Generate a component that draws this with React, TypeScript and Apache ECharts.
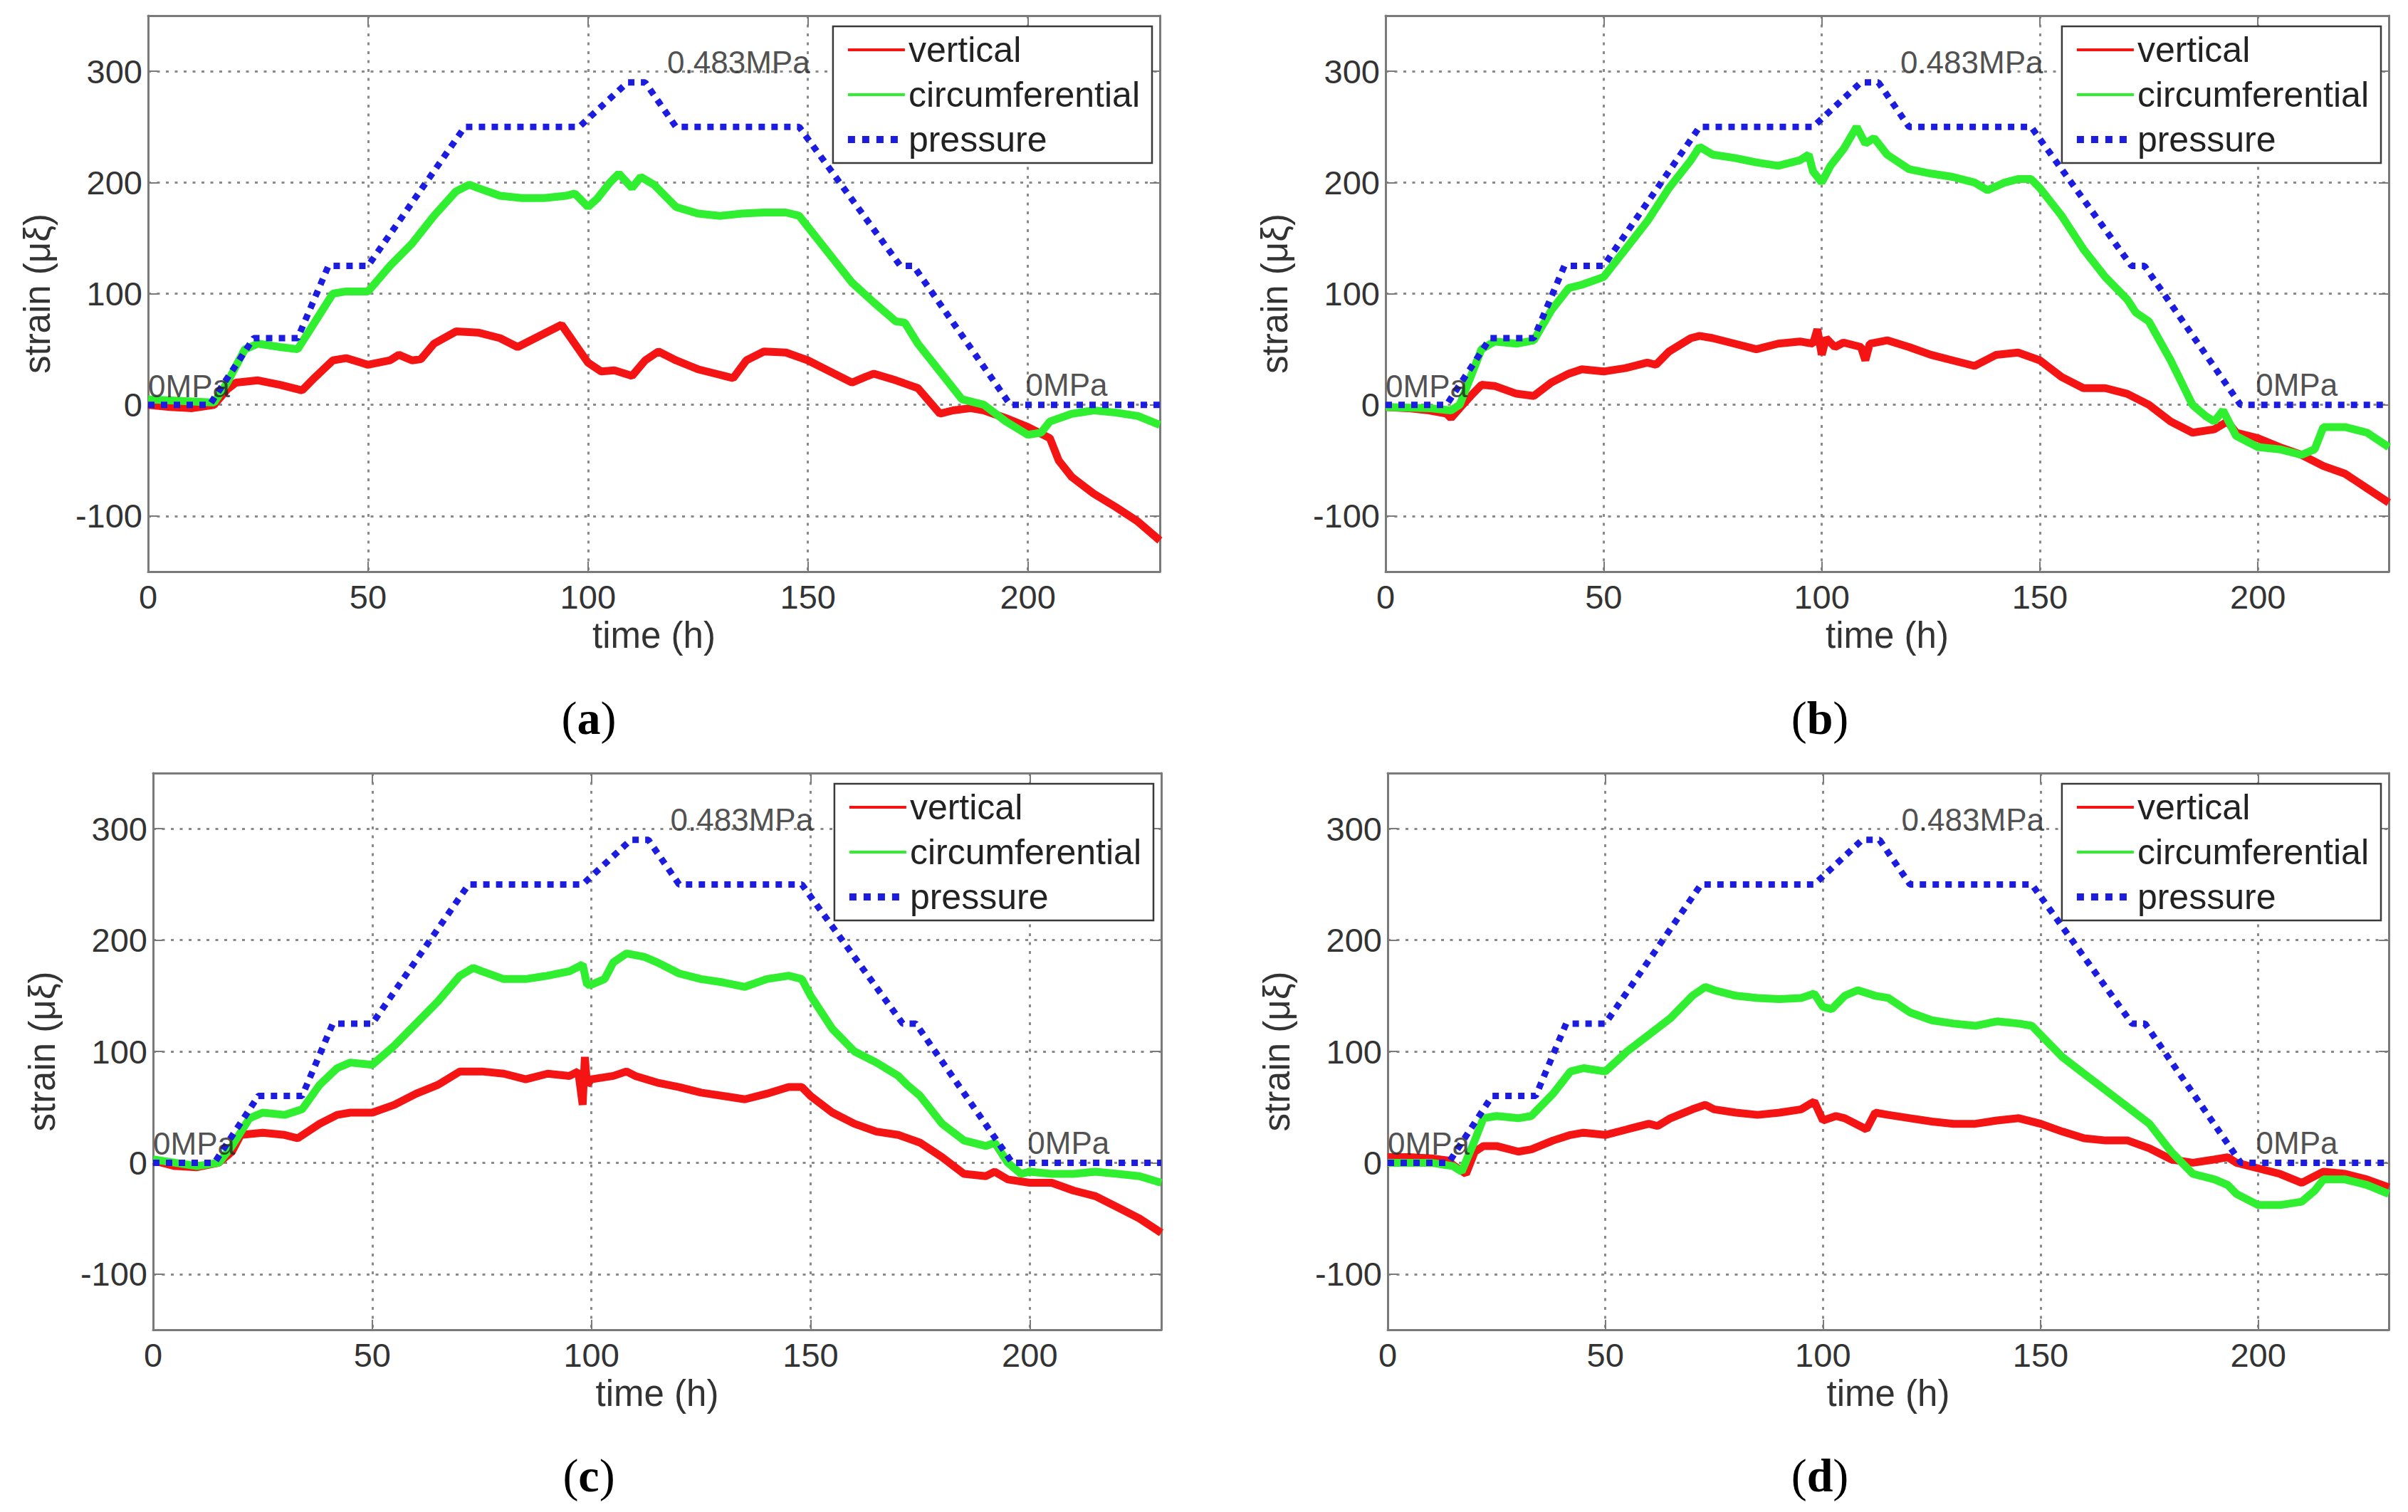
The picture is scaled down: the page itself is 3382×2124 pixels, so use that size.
import React, { useEffect, useRef } from 'react';
import * as echarts from 'echarts';

// ---------- data (time h, value) ----------
const pressure: number[][] = [
  [0, 0], [14, 0], [24, 60], [34, 60], [41, 125], [50, 125], [72, 250], [98, 250], [109, 290], [113, 290],
  [120, 250], [148, 250], [171, 125], [174, 125], [196, 0], [230, 0],
];

const verticalA: number[][] = [
  [0, 0], [5, -2], [10, -3], [15, 0], [18, 14], [20, 20], [25, 22], [30, 18], [35, 13], [38, 25], [42, 40], [45, 42],
  [50, 36], [55, 40], [57, 45], [60, 40], [62, 41], [65, 55], [70, 66], [75, 65], [80, 60], [84, 52], [88, 60], [92, 68],
  [94, 72], [97, 55], [100, 38], [103, 30], [106, 31], [110, 26], [113, 40], [116, 48], [120, 40], [125, 32], [130, 27],
  [133, 24], [136, 40], [140, 48], [145, 47], [150, 40], [155, 30], [160, 20], [163, 25], [165, 28], [170, 22], [175, 15],
  [180, -8], [183, -5], [187, -3], [190, -5], [195, -12], [200, -20], [205, -30], [207, -50], [210, -65], [215, -80],
  [220, -92], [225, -105], [230, -122],
];
const circA: number[][] = [
  [0, 5], [10, 3], [15, 2], [18, 20], [22, 50], [25, 55], [30, 52], [34, 50], [38, 75], [42, 100], [45, 102], [50, 102],
  [55, 125], [60, 145], [65, 170], [70, 192], [73, 198], [75, 195], [80, 188], [85, 186], [90, 186], [95, 188], [97, 190],
  [100, 178], [102, 185], [105, 200], [107, 208], [110, 195], [112, 205], [115, 198], [120, 178], [125, 172], [130, 170],
  [135, 172], [140, 173], [145, 173], [148, 170], [150, 160], [155, 135], [160, 110], [165, 92], [170, 75], [172, 74],
  [175, 55], [180, 30], [185, 5], [190, 0], [195, -15], [200, -27], [203, -25], [205, -15], [210, -8], [215, -5], [220, -7],
  [225, -10], [230, -18],
];

const verticalB: number[][] = [
  [0, -2], [5, -3], [10, -5], [14, -8], [15, -12], [17, -3], [20, 10], [22, 18], [25, 17], [30, 10], [34, 8], [38, 20],
  [42, 28], [45, 32], [50, 30], [55, 33], [60, 38], [62, 36], [65, 48], [70, 60], [72, 62], [75, 60], [80, 55], [85, 50],
  [90, 55], [95, 57], [98, 55], [99, 68], [100, 45], [101, 60], [103, 52], [105, 56], [109, 52], [110, 40], [111, 55],
  [115, 58], [120, 52], [125, 45], [130, 40], [135, 35], [140, 45], [145, 47], [150, 40], [155, 25], [160, 15], [165, 15],
  [170, 10], [175, 0], [180, -15], [185, -25], [190, -22], [193, -15], [195, -25], [200, -30], [205, -38], [210, -45],
  [215, -55], [220, -62], [225, -75], [230, -88],
];
const circB: number[][] = [
  [0, -2], [10, -3], [15, -5], [17, 0], [20, 30], [22, 50], [25, 57], [30, 55], [34, 58], [38, 85], [42, 105], [45, 108],
  [50, 115], [55, 140], [60, 165], [65, 195], [70, 220], [72, 232], [75, 225], [80, 222], [85, 218], [90, 215], [95, 220],
  [97, 225], [98, 210], [100, 200], [102, 215], [105, 230], [108, 250], [110, 235], [112, 240], [115, 225], [120, 212],
  [125, 208], [130, 205], [135, 200], [138, 193], [142, 200], [145, 203], [148, 203], [150, 195], [155, 170], [160, 140],
  [165, 115], [170, 95], [172, 83], [175, 75], [180, 40], [185, 0], [188, -10], [190, -15], [192, -5], [195, -28], [200, -38],
  [205, -40], [210, -45], [213, -40], [215, -20], [220, -20], [225, -25], [230, -38],
];

const verticalC: number[][] = [
  [0, 2], [5, -3], [10, -4], [15, 0], [18, 10], [20, 25], [25, 27], [30, 25], [33, 22], [38, 35], [42, 43], [45, 45],
  [50, 45], [55, 52], [60, 62], [65, 70], [70, 82], [75, 82], [80, 80], [85, 75], [90, 80], [95, 78], [97, 82], [98, 52],
  [98.5, 95], [99, 70], [100, 75], [105, 78], [108, 82], [110, 78], [115, 72], [120, 68], [125, 63], [130, 60], [135, 57],
  [140, 62], [145, 68], [148, 68], [150, 60], [155, 45], [160, 35], [165, 28], [170, 25], [175, 18], [180, 5], [185, -10],
  [190, -12], [192, -8], [195, -15], [200, -18], [205, -18], [210, -25], [215, -30], [220, -40], [225, -50], [230, -63],
];
const circC: number[][] = [
  [0, 3], [5, 0], [10, -3], [15, 0], [18, 15], [22, 40], [25, 45], [30, 43], [34, 48], [38, 70], [42, 85], [45, 90],
  [50, 88], [55, 105], [60, 125], [65, 145], [70, 168], [73, 175], [75, 172], [80, 165], [85, 165], [90, 168], [95, 172],
  [98, 178], [99, 160], [100, 160], [103, 165], [105, 180], [108, 188], [112, 185], [115, 180], [120, 170], [125, 165],
  [130, 162], [135, 158], [140, 165], [145, 168], [148, 165], [150, 150], [155, 120], [160, 100], [165, 90], [170, 78],
  [172, 70], [175, 60], [180, 35], [185, 20], [190, 15], [192, 18], [195, 0], [198, -10], [200, -8], [205, -10], [210, -10],
  [215, -8], [220, -10], [225, -12], [230, -18],
];

const verticalD: number[][] = [
  [0, 5], [5, 5], [10, 4], [14, 2], [15, -2], [18, -10], [20, 10], [22, 15], [25, 15], [30, 10], [33, 12], [38, 20],
  [42, 25], [45, 27], [50, 25], [55, 30], [60, 35], [62, 33], [65, 40], [70, 48], [73, 52], [75, 48], [80, 45], [85, 43],
  [90, 45], [95, 48], [98, 55], [100, 38], [103, 42], [105, 40], [110, 30], [112, 45], [115, 43], [120, 40], [125, 37],
  [130, 35], [135, 35], [140, 38], [145, 40], [150, 35], [155, 28], [160, 22], [165, 20], [170, 20], [175, 13], [180, 3],
  [185, 0], [190, 3], [193, 5], [195, 0], [200, -5], [205, -10], [210, -18], [213, -12], [215, -8], [220, -10], [225, -15],
  [230, -22],
];
const circD: number[][] = [
  [0, 0], [10, 0], [15, -3], [17, -8], [20, 20], [22, 40], [25, 42], [30, 40], [33, 42], [38, 62], [42, 82], [45, 85],
  [50, 82], [55, 100], [60, 115], [65, 130], [70, 150], [73, 158], [75, 155], [80, 150], [85, 148], [90, 147], [95, 148],
  [98, 152], [100, 140], [102, 138], [105, 150], [108, 155], [112, 150], [115, 148], [120, 135], [125, 128], [130, 125],
  [135, 123], [140, 127], [145, 125], [148, 123], [150, 115], [155, 95], [160, 80], [165, 65], [170, 50], [175, 35],
  [180, 10], [185, -10], [190, -15], [193, -20], [195, -28], [200, -38], [205, -38], [210, -35], [213, -25], [215, -15],
  [220, -15], [225, -20], [230, -28],
];

const annotationText = ['0MPa', '0.483MPa', '0MPa'];
const annotationTime = [0, 118, 199.5];
const annotationStrain = [17, 308, 18];

const seriesNames = ['vertical', 'circumferential', 'pressure'];
const panelLetters = ['a', 'b', 'c', 'd'];
const xName = 'time (h)';
const yName = 'strain (μξ)';

// ---------- layout & style ----------
const W = 3382;
const H = 2124;
const panels = [
  { left: 208, top: 22, width: 1421, height: 781, labelX: 827, labelY: 1008, v: verticalA, c: circA },
  { left: 1946, top: 22, width: 1409, height: 781, labelX: 2556, labelY: 1008, v: verticalB, c: circB },
  { left: 215, top: 1086, width: 1416, height: 782, labelX: 827, labelY: 2072, v: verticalC, c: circC },
  { left: 1949, top: 1086, width: 1406, height: 782, labelX: 2556, labelY: 2072, v: verticalD, c: circD },
];

const RED = '#f51414';
const GREEN = '#30ee30';
const BLUE = '#1c1ce0';
const FRAME = '#7a7a7a';
const GRIDC = '#8a8a8a';
const SANS = 'Liberation Sans, Arial, sans-serif';
const SERIF = 'Liberation Serif, Times New Roman, serif';

function buildOption() {
  const xAxis: any[] = [];
  const yAxis: any[] = [];
  const series: any[] = [];
  const legend: any[] = [];
  const graphic: any[] = [];

  const axisLine = { show: true, onZero: false, lineStyle: { color: FRAME, width: 3 } };
  const axisTick = { show: true, inside: true, length: 14, lineStyle: { color: FRAME, width: 2 } };
  const split = { show: true, lineStyle: { color: GRIDC, width: 3, type: [4, 8.5] } };
  const labelStyle = { fontFamily: SANS, fontSize: 47, color: '#333333' };

  panels.forEach((p, i) => {
    xAxis.push({
      type: 'value', gridIndex: i, position: 'bottom', min: 0, max: 230, interval: 50,
      axisLine, axisTick, splitLine: split,
      axisLabel: { ...labelStyle, margin: 12, showMaxLabel: false, formatter: (v: number) => (v % 50 === 0 ? String(v) : '') },
      name: xName, nameLocation: 'middle', nameGap: 64,
      nameTextStyle: { fontFamily: SANS, fontSize: 51, color: '#333333' },
    });
    xAxis.push({
      type: 'value', gridIndex: i, position: 'top', min: 0, max: 230, interval: 50,
      axisLine, axisTick, splitLine: { show: false }, axisLabel: { show: false },
    });
    yAxis.push({
      type: 'value', gridIndex: i, position: 'left', min: -150, max: 350, splitNumber: 5,
      axisLine, axisTick, splitLine: split,
      axisLabel: {
        ...labelStyle, margin: 8, showMinLabel: false, showMaxLabel: false,
        formatter: (v: number) => (Math.abs(v) % 100 === 0 ? String(v) : ''),
      },
      name: yName, nameLocation: 'middle', nameGap: 130,
      nameTextStyle: { fontFamily: SANS, fontSize: 51, color: '#333333' },
    });
    yAxis.push({
      type: 'value', gridIndex: i, position: 'right', min: -150, max: 350, splitNumber: 5,
      axisLine, axisTick, splitLine: { show: false }, axisLabel: { show: false },
    });

    const xi = 2 * i;
    const yi = 2 * i;
    series.push({
      type: 'line', name: seriesNames[0], xAxisIndex: xi, yAxisIndex: yi, data: p.v,
      symbol: 'none', showSymbol: false, silent: true, z: 2,
      lineStyle: { color: RED, width: 11 }, itemStyle: { color: RED },
    });
    series.push({
      type: 'line', name: seriesNames[1], xAxisIndex: xi, yAxisIndex: yi, data: p.c,
      symbol: 'none', showSymbol: false, silent: true, z: 3,
      lineStyle: { color: GREEN, width: 11 }, itemStyle: { color: GREEN },
    });
    series.push({
      type: 'line', name: seriesNames[2], xAxisIndex: xi, yAxisIndex: yi, data: pressure,
      symbol: 'none', showSymbol: false, silent: true, z: 4,
      lineStyle: { color: BLUE, width: 9, type: 'dotted', cap: 'butt' }, itemStyle: { color: BLUE },
    });
    series.push({
      type: 'scatter', name: 'annotation', xAxisIndex: xi, yAxisIndex: yi, silent: true, z: 6,
      symbolSize: 0.1, itemStyle: { color: 'rgba(0,0,0,0)' },
      data: annotationText.map((t, k) => ({ value: [annotationTime[k], annotationStrain[k]], name: t })),
      label: {
        show: true, position: 'right', distance: 0, formatter: (d: any) => d.name,
        fontFamily: SANS, fontSize: 44, color: '#222222',
      },
    });

    const hidden = { opacity: 0, borderWidth: 0 };
    legend.push({
      show: true, orient: 'vertical', selectedMode: false,
      right: W - (p.left + p.width - 11), top: p.top + 15,
      itemWidth: 80, itemHeight: 14, itemGap: 13, padding: [8, 17, 8, 16],
      borderColor: '#3a3a3a', borderWidth: 2.5, backgroundColor: '#ffffff', z: 8,
      textStyle: { fontFamily: SANS, fontSize: 50, lineHeight: 50, color: '#222222' },
      data: [
        { name: seriesNames[0], itemStyle: hidden, lineStyle: { width: 4, color: RED } },
        { name: seriesNames[1], itemStyle: hidden, lineStyle: { width: 4, color: GREEN } },
        { name: seriesNames[2], itemStyle: hidden, lineStyle: { width: 10, color: BLUE, type: 'dotted' } },
      ],
    });

    graphic.push({
      type: 'text', x: p.labelX, y: p.labelY,
      style: {
        text: `{p|(}{b|${panelLetters[i]}}{p|)}`,
        align: 'center', verticalAlign: 'middle', textAlign: 'center', textVerticalAlign: 'middle',
        rich: {
          p: { fontFamily: SERIF, fontSize: 66, fill: '#000000', color: '#000000' },
          b: { fontFamily: SERIF, fontSize: 66, fontWeight: 'bold', fill: '#000000', color: '#000000' },
        },
      },
    });
  });

  return {
    animation: false,
    backgroundColor: '#ffffff',
    textStyle: { fontFamily: SANS },
    grid: panels.map((p) => ({ left: p.left, top: p.top, width: p.width, height: p.height, containLabel: false })),
    xAxis,
    yAxis,
    series,
    legend,
    graphic,
  };
}

export default function App() {
  const ref = useRef<HTMLDivElement>(null);
  useEffect(() => {
    if (!ref.current) return;
    const chart = echarts.init(ref.current, undefined, { renderer: 'svg', width: W, height: H });
    chart.setOption(buildOption() as any);
    return () => chart.dispose();
  }, []);
  return <div ref={ref} style={{ position: 'absolute', left: 0, top: 0, width: W, height: H, background: '#fff' }} />;
}
